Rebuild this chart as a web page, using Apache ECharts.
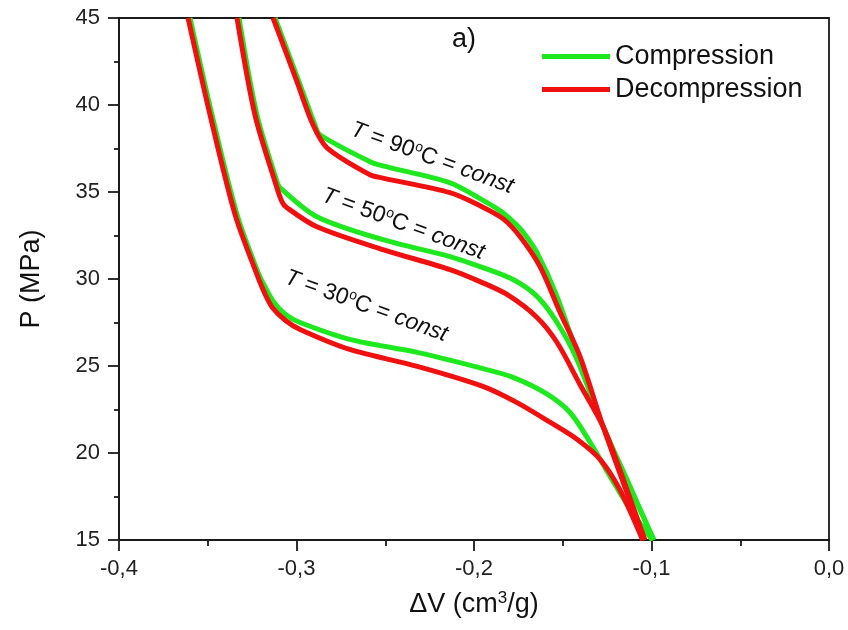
<!DOCTYPE html>
<html><head><meta charset="utf-8">
<script src="https://cdn.jsdelivr.net/npm/echarts@6/dist/echarts.min.js"></script>
<style>html,body{margin:0;padding:0;background:#fff}#c{width:848px;height:630px}</style>
</head><body><div id="c"></div>
<script>
// Data [dV (cm3/g), P (MPa)]
const comp30 = [[-0.360,45],[-0.3476,39.43],[-0.3335,33.7],[-0.3212,30.26],[-0.318,29.6],[-0.313,28.7],[-0.306,27.95],[-0.298,27.5],[-0.27,26.53],[-0.232,25.78],[-0.195,24.85],[-0.178,24.35],[-0.159,23.4],[-0.146,22.34],[-0.1346,20.62],[-0.1234,18.67],[-0.1121,16.77],[-0.0995,15]];
const decomp30 = [[-0.3611,45],[-0.3487,39.43],[-0.3346,33.7],[-0.3223,30.26],[-0.318,29.2],[-0.3135,28.35],[-0.306,27.6],[-0.298,27.1],[-0.27,25.95],[-0.232,24.98],[-0.195,23.83],[-0.176,22.91],[-0.157,21.76],[-0.142,20.79],[-0.129,19.64],[-0.118,17.92],[-0.105,15]];
const comp50 = [[-0.3324,45],[-0.3223,39.43],[-0.311,35.59],[-0.3093,35.25],[-0.2885,33.58],[-0.2513,32.26],[-0.2135,31.29],[-0.1966,30.71],[-0.178,29.97],[-0.1645,29.0],[-0.1532,27.5],[-0.142,25.38],[-0.1273,21.53],[-0.1135,18.4],[-0.0988,15]];
const decomp50 = [[-0.3335,45],[-0.3234,39.43],[-0.3121,35.59],[-0.3082,34.44],[-0.3054,34.1],[-0.2885,33.0],[-0.2513,31.69],[-0.2135,30.54],[-0.1966,29.85],[-0.1814,29.11],[-0.1645,27.79],[-0.1532,26.35],[-0.1403,23.94],[-0.1273,21.53],[-0.1194,19.47],[-0.1037,15]];
const comp90 = [[-0.3121,45],[-0.2986,41.33],[-0.2896,38.86],[-0.2868,38.29],[-0.2586,36.74],[-0.2513,36.5],[-0.2135,35.53],[-0.1966,34.62],[-0.1854,33.93],[-0.178,33.3],[-0.1724,32.7],[-0.1645,31.52],[-0.1532,28.99],[-0.1403,25.21],[-0.1273,21.53],[-0.1135,18.3],[-0.0986,15]];
const decomp90 = [[-0.3132,45],[-0.2997,41.33],[-0.2907,38.86],[-0.2828,37.54],[-0.2586,35.99],[-0.2513,35.8],[-0.2135,34.96],[-0.1966,34.21],[-0.1837,33.47],[-0.1741,32.44],[-0.1628,30.71],[-0.1515,28.08],[-0.1403,25.55],[-0.1273,21.53],[-0.104,15]];
const xTicks = [-0.4,-0.3,-0.2,-0.1,0.0];
const yTicks = [15,20,25,30,35,40,45];
const GREEN = '#1ee81e', RED = '#f01010';

const chart = echarts.init(document.getElementById('c'));
const FONT = 'Liberation Sans, Arial, sans-serif';
function line(name, data, color){
  return {name, type:'line', data, showSymbol:false, smooth:0.3,
    lineStyle:{width:5,color}, itemStyle:{color}, clip:true, z: name==='Compression'?2:3};
}
function annot(x,y,t){
  return {type:'text', x, y, rotation:-20*Math.PI/180, style:{
    text:'{i|T} = '+t+'{s|o}C = {i|const}', fontFamily:FONT, fontSize:23, fill:'#111',
    rich:{ i:{fontStyle:'italic',fontSize:23,fontFamily:FONT,fill:'#111'},
           s:{fontSize:14,verticalAlign:'top',padding:[0,0,11,0],fontFamily:FONT,fill:'#111'} }}};
}
const tickStyle = {color:'#1a1a1a',width:1.8};
chart.setOption({
  animation:false,
  textStyle:{fontFamily:FONT},
  grid:{left:119,right:19,top:18,bottom:90,show:true,borderColor:'#1a1a1a',borderWidth:1.8},
  legend:{data:['Compression','Decompression'],orient:'vertical',left:537,top:38,itemWidth:68,itemHeight:5,itemGap:6,icon:'rect',
    textStyle:{fontSize:27,color:'#111',fontFamily:FONT}},
  xAxis:{type:'value',min:-0.4,max:0,interval:0.1,
    name:'ΔV (cm{s|3}/g)',nameLocation:'middle',nameGap:50,
    nameTextStyle:{fontSize:27,color:'#111',fontFamily:FONT,rich:{s:{fontSize:17,verticalAlign:'top',padding:[0,0,12,0],color:'#111'}}},
    axisLine:{onZero:false,lineStyle:tickStyle},
    axisTick:{inside:false,length:11,lineStyle:tickStyle},
    minorTick:{show:true,splitNumber:2,length:6,lineStyle:tickStyle},
    splitLine:{show:false},
    axisLabel:{fontSize:22,color:'#222',margin:18,fontFamily:FONT,formatter:v=>v.toFixed(1).replace('.',',').replace('-0,0','0,0')}},
  yAxis:{type:'value',min:15,max:45,interval:5,
    name:'P (MPa)',nameLocation:'middle',nameGap:74,
    nameTextStyle:{fontSize:27,color:'#111',fontFamily:FONT},
    axisLine:{onZero:false,lineStyle:tickStyle},
    axisTick:{inside:false,length:11,lineStyle:tickStyle},
    minorTick:{show:true,splitNumber:2,length:5,lineStyle:tickStyle},
    splitLine:{show:false},
    axisLabel:{fontSize:22,color:'#222',margin:19,fontFamily:FONT}},
  series:[
    line('Compression',comp30,GREEN), line('Decompression',decomp30,RED),
    line('Compression',comp50,GREEN), line('Decompression',decomp50,RED),
    line('Compression',comp90,GREEN), line('Decompression',decomp90,RED)
  ],
  graphic:[
    {type:'text',x:452,y:26,style:{text:'a)',fontSize:27,fontFamily:FONT,fill:'#111'}},
    annot(356,117,'90'),
    annot(327,183,'50'),
    annot(290,265,'30')
  ]
});
</script></body></html>
